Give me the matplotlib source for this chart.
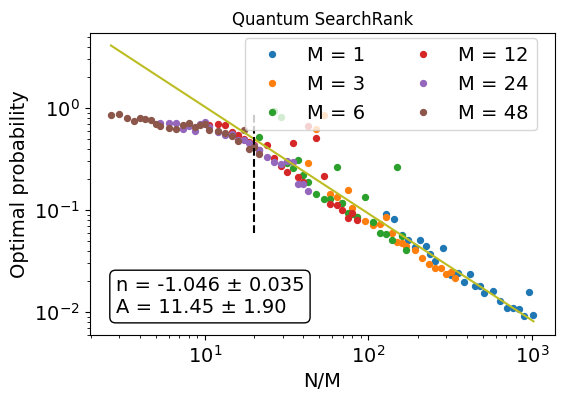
import numpy as np
import matplotlib
matplotlib.use("Agg")
import matplotlib.pyplot as plt

# graph sizes (shared by every M), x axis is N/M
N = np.array([128, 144, 160, 176, 192, 208, 224, 240, 256,
              288, 320, 352, 384, 416, 448, 480, 512,
              576, 640, 704, 768, 832, 896, 960, 1024])

M_VALUES = [1, 3, 6, 12, 24, 48]

# optimal probability (nan = not visible)
prob_M1 = [0.0907, 0.0822, 0.0575, 0.0508, 0.0437, 0.0508, 0.0449, 0.0375, 0.0316,
           0.0421, 0.0231, 0.0240, 0.0198, 0.0234, 0.0180, 0.0180, 0.0153,
           0.0160, 0.0129, 0.0111, 0.0111, 0.0107, 0.00918, 0.0157, 0.00935]
prob_M3 = [0.287, 0.618, 0.854, 0.1435, 0.1356, 0.1171, 0.157, 0.1039, 0.0850,
           0.0775, 0.0713, 0.0729, 0.0848, 0.0599, 0.0482, 0.0479, 0.0442,
           0.0408, 0.0337, 0.0299, 0.0269, 0.0273, 0.0234, 0.0248, 0.0218]
prob_M6 = [0.520, np.nan, 0.941, 0.820, 0.289, 0.256, 0.307, 0.220, 0.189,
           0.1425, 0.1282, 0.1282, 0.264, 0.1185, 0.0945, 0.0913, 0.0854,
           0.1356, 0.0758, 0.0595, 0.0582, 0.0514, 0.266, 0.0556, 0.0405]
prob_M12 = [0.677, 0.702, 0.677, 0.578, 0.540, 0.500, 0.469, 0.437, 0.390,
            0.434, 0.326, 0.270, 0.238, 0.451, 0.212, 0.188, 0.666,
            0.511, 0.215, 0.1137, 0.1119, 0.100, 0.0840, 0.0928, 0.0798]
prob_M24 = [0.713, 0.713, 0.708, 0.618, 0.674, 0.595, 0.692, 0.726, 0.651,
            0.582, 0.550, 0.552, 0.489, 0.482, 0.454, 0.424, 0.388,
            0.331, 0.298, 0.286, 0.301, 0.296, 0.179, 0.179, 0.154]
prob_M48 = [0.860, 0.873, 0.803, 0.751, 0.798, 0.780, 0.763, 0.705, 0.674,
            0.637, 0.622, 0.689, 0.713, 0.656, 0.677, 0.692, 0.613,
            0.602, 0.566, 0.531, 0.480, 0.609, 0.394, 0.415, 0.352]

PROBS = [prob_M1, prob_M3, prob_M6, prob_M12, prob_M24, prob_M48]

# power-law fit  p = A * (N/M)^n
FIT_A, FIT_A_ERR = 11.45, 1.90
FIT_N, FIT_N_ERR = -1.046, 0.035
CUT_X = 20          # dashed marker
CUT_Y = (0.06, 0.87)

FS = 14

fig = plt.figure(figsize=(5.65, 3.99), dpi=100)
ax = fig.add_axes([0.159, 0.160, 0.823, 0.757])

for M, p in zip(M_VALUES, PROBS):
    ax.plot(N / M, p, ".", ms=8.5, label=f"M = {M}")

x_all = np.concatenate([N / M for M in M_VALUES])
x_fit = np.array([x_all.min(), x_all.max()])
ax.plot(x_fit, FIT_A * x_fit ** FIT_N, color="tab:olive", lw=1.5)

ax.vlines(CUT_X, CUT_Y[0], CUT_Y[1], colors="black", linestyles="--", lw=1.5)

ax.set_xscale("log")
ax.set_yscale("log")
ax.set_xlim(1.98, 1383)
ax.set_ylim(0.00595, 5.43)

ax.set_xlabel("N/M", fontsize=FS)
ax.set_ylabel("Optimal probability", fontsize=FS)
ax.set_title("Quantum SearchRank", fontsize=12)
ax.tick_params(labelsize=FS)

ax.legend(fontsize=FS, ncol=2, loc="upper right",
          bbox_to_anchor=(0.9606, 0.9825), borderaxespad=0)

fit_txt = (f"n = {FIT_N:.3f} ± {FIT_N_ERR:.3f}\n"
           f"A = {FIT_A:.2f} ± {FIT_A_ERR:.2f}")
ax.text(0.0555, 0.060, fit_txt, transform=ax.transAxes, fontsize=FS,
        ha="left", va="bottom",
        bbox=dict(boxstyle="round,pad=0.3", fc="white", ec="black"))

fig.savefig("out.png", dpi=100)
